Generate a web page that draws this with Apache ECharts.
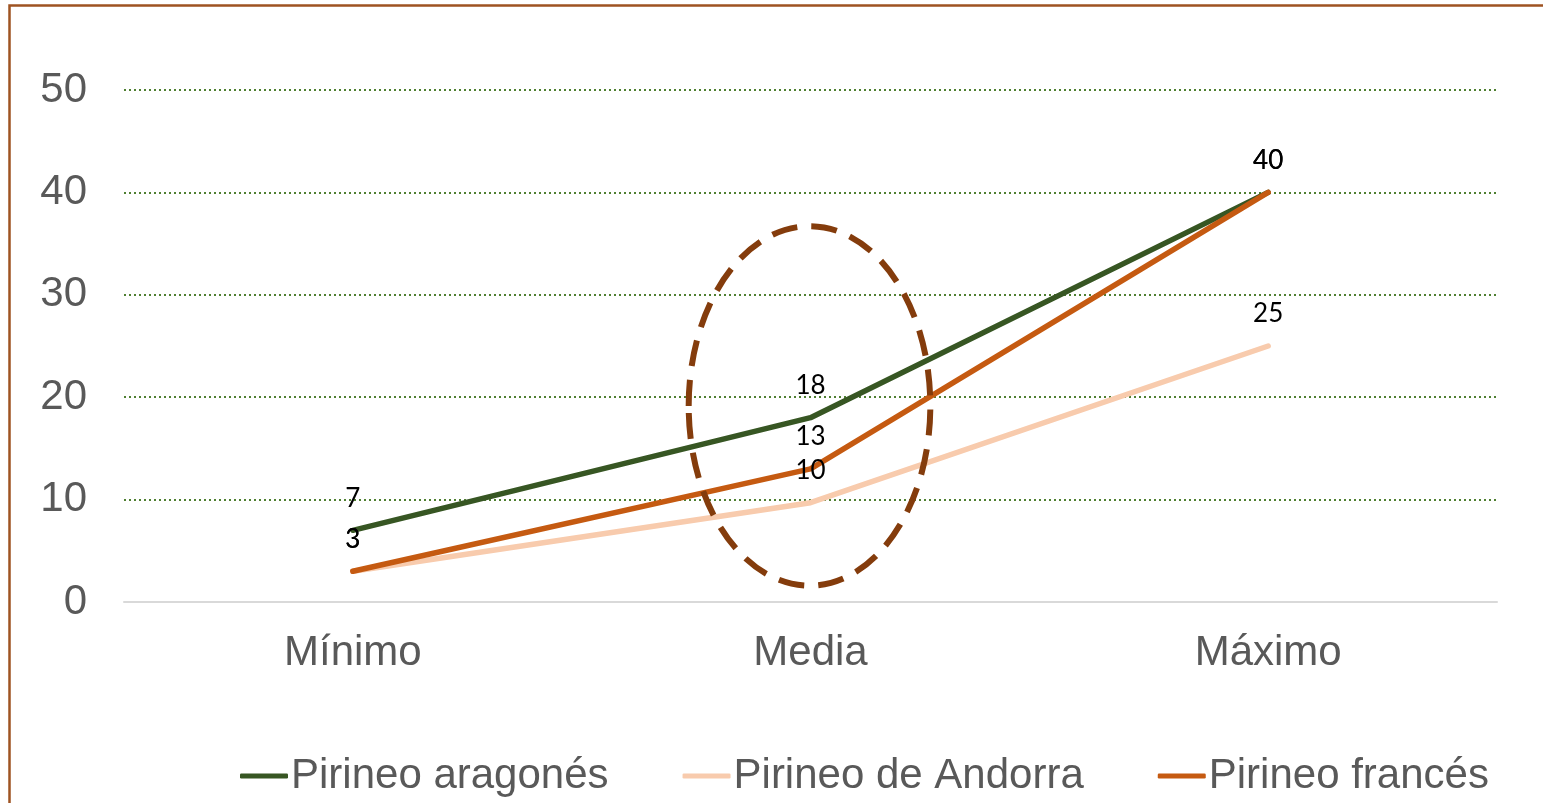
<!DOCTYPE html>
<html>
<head>
<meta charset="utf-8">
<style>
  html, body { margin: 0; padding: 0; background: #fff; }
  #chart { width: 1543px; height: 803px; }
</style>
<script src="https://cdn.jsdelivr.net/npm/echarts@6/dist/echarts.min.js"></script>
</head>
<body>
<div id="chart"></div>
<script>
const categories = ['Mínimo', 'Media', 'Máximo']
const aragones = [7, 18, 40]
const andorra = [3, 9.7, 25]
const frances = [3, 13, 40]
const seriesNames = ['Pirineo aragonés', 'Pirineo de Andorra', 'Pirineo francés']
const yTicks = [0, 10, 20, 30, 40, 50]

const colors = ['#375623', '#f8cbad', '#c55a11']
const axisGray = '#595959'
const axisFont = 'Liberation Sans, Arial, sans-serif'

const myChart = echarts.init(document.getElementById('chart'), null, { renderer: 'canvas' })

function lineSeries(name, data, color) {
  return {
    name: name,
    type: 'line',
    data: data,
    symbol: 'circle',
    symbolSize: 0.1,
    showSymbol: true,
    lineStyle: { color: color, width: 5.5, cap: 'round', join: 'round' },
    itemStyle: { color: color },
    label: {
      show: true,
      position: 'top',
      distance: 19,
      color: '#000',
      fontSize: 26,
      fontFamily: 'Lato, Carlito, sans-serif',
      formatter: p => Math.round(p.value)
    },
    animation: false
  }
}

myChart.setOption({
  backgroundColor: '#fff',
  animation: false,
  grid: { left: 124, right: 46, top: 90, bottom: 201, containLabel: false },
  xAxis: {
    type: 'category',
    data: categories,
    boundaryGap: true,
    axisTick: { show: false },
    axisLine: { show: true, lineStyle: { color: '#d9d9d9', width: 2 } },
    axisLabel: { color: axisGray, fontSize: 42, fontFamily: axisFont, margin: 30 }
  },
  yAxis: {
    type: 'value',
    min: yTicks[0],
    max: yTicks[yTicks.length - 1],
    interval: 10,
    axisLine: { show: false },
    axisTick: { show: false },
    axisLabel: { color: axisGray, fontSize: 42, fontFamily: axisFont, margin: 37, padding: [4, 0, 0, 0] },
    splitLine: { lineStyle: { color: '#4f7f31', width: 2, type: [2, 3] } }
  },
  legend: {
    data: seriesNames,
    left: 240,
    top: 755,
    padding: 0,
    itemWidth: 48,
    itemHeight: 5,
    itemGap: 74,
    icon: 'roundRect',
    textStyle: { color: axisGray, fontSize: 42, fontFamily: axisFont, padding: [0, 0, 0, -2] }
  },
  series: [
    lineSeries(seriesNames[0], aragones, colors[0]),
    lineSeries(seriesNames[1], andorra, colors[1]),
    lineSeries(seriesNames[2], frances, colors[2])
  ]
})

// annotation: frame and dashed ellipse around the "Media" column
const ellCenter = myChart.convertToPixel({ xAxisIndex: 0, yAxisIndex: 0 }, ['Media', 19.2])
const ellTop = myChart.convertToPixel({ yAxisIndex: 0 }, 36.7)
const ellBottom = myChart.convertToPixel({ yAxisIndex: 0 }, 1.6)
const band = myChart.convertToPixel({ xAxisIndex: 0 }, 'Máximo') - myChart.convertToPixel({ xAxisIndex: 0 }, 'Media')

myChart.setOption({
  graphic: [
    {
      type: 'rect',
      shape: { x: 9.5, y: 5.5, width: 1700, height: 1000 },
      style: { fill: 'none', stroke: '#9e5322', lineWidth: 2.5 },
      silent: true,
      z: 10
    },
    {
      type: 'ellipse',
      shape: { cx: ellCenter[0] - 1, cy: (ellTop + ellBottom) / 2, rx: band * 0.264, ry: (ellBottom - ellTop) / 2 },
      style: { fill: 'none', stroke: '#843c0c', lineWidth: 6, lineDash: [26, 14] },
      silent: true,
      z: 10
    }
  ]
})
</script>
</body>
</html>
